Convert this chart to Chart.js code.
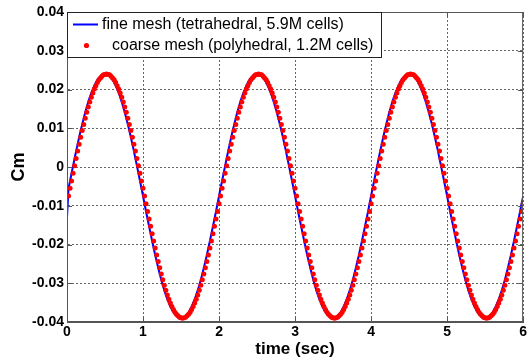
<!DOCTYPE html>
<html>
<head>
<meta charset="utf-8">
<script src="https://cdn.jsdelivr.net/npm/chart.js@4/dist/chart.umd.min.js"></script>
<style>
  html, body { margin: 0; padding: 0; background: #fff; }
  #cmChart { display: block; }
</style>
</head>
<body>
<canvas id="cmChart" width="529" height="360"></canvas>
<script>
// moment coefficient history, sampled every 0.02 s
const sampleStep = 0.02;
const fineStart = 0;
const coarseStart = 0.02;

const xTicks = [0, 1, 2, 3, 4, 5, 6];
const yTicks = [-0.04, -0.03, -0.02, -0.01, 0, 0.01, 0.02, 0.03, 0.04];

const fineLabel = "fine mesh (tetrahedral, 5.9M cells)";
const coarseLabel = "coarse mesh (polyhedral, 1.2M cells)";

const fineCm = [
  -0.0130, -0.0055, -0.0036, -0.0016, 0.0003, 0.0022, 0.0041, 0.0059, 0.0077, 0.0094, 0.0110, 0.0126, 0.0141, 0.0155, 0.0168, 0.0180, 0.0191, 0.0201, 0.0210, 0.0218, 0.0225, 0.0230, 0.0234, 0.0238, 0.0239,
  0.0240, 0.0239, 0.0238, 0.0234, 0.0230, 0.0225, 0.0218, 0.0210, 0.0201, 0.0191, 0.0180, 0.0168, 0.0155, 0.0141, 0.0126, 0.0110, 0.0094, 0.0077, 0.0059, 0.0041, 0.0022, 0.0003, -0.0016, -0.0036, -0.0055,
  -0.0075, -0.0095, -0.0115, -0.0134, -0.0153, -0.0172, -0.0191, -0.0209, -0.0227, -0.0244, -0.0260, -0.0276, -0.0291, -0.0305, -0.0318, -0.0330, -0.0341, -0.0351, -0.0360, -0.0368, -0.0375, -0.0380, -0.0384, -0.0388, -0.0391,
  -0.0392, -0.0391, -0.0388, -0.0384, -0.0380, -0.0375, -0.0368, -0.0360, -0.0351, -0.0341, -0.0330, -0.0318, -0.0305, -0.0291, -0.0276, -0.0260, -0.0244, -0.0227, -0.0209, -0.0191, -0.0172, -0.0153, -0.0134, -0.0115, -0.0095,
  -0.0075, -0.0055, -0.0036, -0.0016, 0.0003, 0.0022, 0.0041, 0.0059, 0.0077, 0.0094, 0.0110, 0.0126, 0.0141, 0.0155, 0.0168, 0.0180, 0.0191, 0.0201, 0.0210, 0.0218, 0.0225, 0.0230, 0.0234, 0.0238, 0.0239,
  0.0240, 0.0239, 0.0238, 0.0234, 0.0230, 0.0225, 0.0218, 0.0210, 0.0201, 0.0191, 0.0180, 0.0168, 0.0155, 0.0141, 0.0126, 0.0110, 0.0094, 0.0077, 0.0059, 0.0041, 0.0022, 0.0003, -0.0016, -0.0036, -0.0055,
  -0.0075, -0.0095, -0.0115, -0.0134, -0.0153, -0.0172, -0.0191, -0.0209, -0.0227, -0.0244, -0.0260, -0.0276, -0.0291, -0.0305, -0.0318, -0.0330, -0.0341, -0.0351, -0.0360, -0.0368, -0.0375, -0.0380, -0.0384, -0.0388, -0.0391,
  -0.0392, -0.0391, -0.0388, -0.0384, -0.0380, -0.0375, -0.0368, -0.0360, -0.0351, -0.0341, -0.0330, -0.0318, -0.0305, -0.0291, -0.0276, -0.0260, -0.0244, -0.0227, -0.0209, -0.0191, -0.0172, -0.0153, -0.0134, -0.0115, -0.0095,
  -0.0075, -0.0055, -0.0036, -0.0016, 0.0003, 0.0022, 0.0041, 0.0059, 0.0077, 0.0094, 0.0110, 0.0126, 0.0141, 0.0155, 0.0168, 0.0180, 0.0191, 0.0201, 0.0210, 0.0218, 0.0225, 0.0230, 0.0234, 0.0238, 0.0239,
  0.0240, 0.0239, 0.0238, 0.0234, 0.0230, 0.0225, 0.0218, 0.0210, 0.0201, 0.0191, 0.0180, 0.0168, 0.0155, 0.0141, 0.0126, 0.0110, 0.0094, 0.0077, 0.0059, 0.0041, 0.0022, 0.0003, -0.0016, -0.0036, -0.0055,
  -0.0075, -0.0095, -0.0115, -0.0134, -0.0153, -0.0172, -0.0191, -0.0209, -0.0227, -0.0244, -0.0260, -0.0276, -0.0291, -0.0305, -0.0318, -0.0330, -0.0341, -0.0351, -0.0360, -0.0368, -0.0375, -0.0380, -0.0384, -0.0388, -0.0391,
  -0.0392, -0.0391, -0.0388, -0.0384, -0.0380, -0.0375, -0.0368, -0.0360, -0.0351, -0.0341, -0.0330, -0.0318, -0.0305, -0.0291, -0.0276, -0.0260, -0.0244, -0.0227, -0.0209, -0.0191, -0.0172, -0.0153, -0.0134, -0.0115, -0.0095,
  -0.0077
];

const coarseCm = [
  -0.0075, -0.0055, -0.0036, -0.0016, 0.0003, 0.0022, 0.0041, 0.0059, 0.0077, 0.0094, 0.0110, 0.0126, 0.0141, 0.0155, 0.0168, 0.0180, 0.0191, 0.0201, 0.0210, 0.0218, 0.0225, 0.0230, 0.0234, 0.0238, 0.0239,
  0.0240, 0.0239, 0.0238, 0.0234, 0.0230, 0.0225, 0.0218, 0.0210, 0.0201, 0.0191, 0.0180, 0.0168, 0.0155, 0.0141, 0.0126, 0.0110, 0.0094, 0.0077, 0.0059, 0.0041, 0.0022, 0.0003, -0.0016, -0.0036, -0.0055,
  -0.0075, -0.0095, -0.0115, -0.0134, -0.0153, -0.0172, -0.0191, -0.0209, -0.0227, -0.0244, -0.0260, -0.0276, -0.0291, -0.0305, -0.0318, -0.0330, -0.0341, -0.0351, -0.0360, -0.0368, -0.0375, -0.0380, -0.0384, -0.0388, -0.0389,
  -0.0390, -0.0389, -0.0388, -0.0384, -0.0380, -0.0375, -0.0368, -0.0360, -0.0351, -0.0341, -0.0330, -0.0318, -0.0305, -0.0291, -0.0276, -0.0260, -0.0244, -0.0227, -0.0209, -0.0191, -0.0172, -0.0153, -0.0134, -0.0115, -0.0095,
  -0.0075, -0.0055, -0.0036, -0.0016, 0.0003, 0.0022, 0.0041, 0.0059, 0.0077, 0.0094, 0.0110, 0.0126, 0.0141, 0.0155, 0.0168, 0.0180, 0.0191, 0.0201, 0.0210, 0.0218, 0.0225, 0.0230, 0.0234, 0.0238, 0.0239,
  0.0240, 0.0239, 0.0238, 0.0234, 0.0230, 0.0225, 0.0218, 0.0210, 0.0201, 0.0191, 0.0180, 0.0168, 0.0155, 0.0141, 0.0126, 0.0110, 0.0094, 0.0077, 0.0059, 0.0041, 0.0022, 0.0003, -0.0016, -0.0036, -0.0055,
  -0.0075, -0.0095, -0.0115, -0.0134, -0.0153, -0.0172, -0.0191, -0.0209, -0.0227, -0.0244, -0.0260, -0.0276, -0.0291, -0.0305, -0.0318, -0.0330, -0.0341, -0.0351, -0.0360, -0.0368, -0.0375, -0.0380, -0.0384, -0.0388, -0.0389,
  -0.0390, -0.0389, -0.0388, -0.0384, -0.0380, -0.0375, -0.0368, -0.0360, -0.0351, -0.0341, -0.0330, -0.0318, -0.0305, -0.0291, -0.0276, -0.0260, -0.0244, -0.0227, -0.0209, -0.0191, -0.0172, -0.0153, -0.0134, -0.0115, -0.0095,
  -0.0075, -0.0055, -0.0036, -0.0016, 0.0003, 0.0022, 0.0041, 0.0059, 0.0077, 0.0094, 0.0110, 0.0126, 0.0141, 0.0155, 0.0168, 0.0180, 0.0191, 0.0201, 0.0210, 0.0218, 0.0225, 0.0230, 0.0234, 0.0238, 0.0239,
  0.0240, 0.0239, 0.0238, 0.0234, 0.0230, 0.0225, 0.0218, 0.0210, 0.0201, 0.0191, 0.0180, 0.0168, 0.0155, 0.0141, 0.0126, 0.0110, 0.0094, 0.0077, 0.0059, 0.0041, 0.0022, 0.0003, -0.0016, -0.0036, -0.0055,
  -0.0075, -0.0095, -0.0115, -0.0134, -0.0153, -0.0172, -0.0191, -0.0209, -0.0227, -0.0244, -0.0260, -0.0276, -0.0291, -0.0305, -0.0318, -0.0330, -0.0341, -0.0351, -0.0360, -0.0368, -0.0375, -0.0380, -0.0384, -0.0388, -0.0389,
  -0.0390, -0.0389, -0.0388, -0.0384, -0.0380, -0.0375, -0.0368, -0.0360, -0.0351, -0.0341, -0.0330, -0.0318, -0.0305, -0.0291, -0.0276, -0.0260, -0.0244, -0.0227, -0.0209, -0.0191, -0.0172, -0.0153, -0.0134, -0.0115, -0.0095
];

function toPoints(values, start) {
  return values.map((v, i) => ({ x: +(start + i * sampleStep).toFixed(2), y: v }));
}

const axisGray = "#555";
const tickFont = { family: "'Liberation Sans', Arial, sans-serif", size: 14, weight: "bold" };

/*=============== BOX, INNER TICKS, LEGEND ===============*/
const framePlugin = {
  id: "frame",
  afterDraw(chart) {
    const { ctx, chartArea: a, scales } = chart;
    ctx.save();
    ctx.strokeStyle = axisGray;
    ctx.lineWidth = 1;
    ctx.strokeRect(a.left + 0.5, a.top + 0.5, a.right - a.left - 1, a.bottom - a.top - 1);

    // short tick marks pointing into the plot on every side
    ctx.beginPath();
    xTicks.forEach((t) => {
      const px = Math.round(scales.x.getPixelForValue(t)) + 0.5;
      ctx.moveTo(px, a.bottom); ctx.lineTo(px, a.bottom - 5);
      ctx.moveTo(px, a.top); ctx.lineTo(px, a.top + 5);
    });
    yTicks.forEach((t) => {
      const py = Math.round(scales.y.getPixelForValue(t)) + 0.5;
      ctx.moveTo(a.left, py); ctx.lineTo(a.left + 5, py);
      ctx.moveTo(a.right, py); ctx.lineTo(a.right - 5, py);
    });
    ctx.stroke();

    // legend box in the upper left corner
    const lx = a.left, ly = a.top, lw = 314, lh = 45;
    ctx.fillStyle = "#fff";
    ctx.fillRect(lx, ly, lw, lh);
    ctx.strokeStyle = "#222";
    ctx.strokeRect(lx + 0.5, ly + 0.5, lw, lh);

    ctx.strokeStyle = "#0000ff";
    ctx.lineWidth = 2;
    ctx.beginPath();
    ctx.moveTo(lx + 6, ly + 12.5);
    ctx.lineTo(lx + 31, ly + 12.5);
    ctx.stroke();

    ctx.fillStyle = "#ff0000";
    ctx.beginPath();
    ctx.arc(lx + 19.5, ly + 33.5, 2.6, 0, Math.PI * 2);
    ctx.fill();

    ctx.fillStyle = "#000";
    ctx.font = "16px 'Liberation Sans', Arial, sans-serif";
    ctx.textBaseline = "middle";
    ctx.textAlign = "left";
    ctx.fillText(fineLabel, lx + 35, ly + 12.5);
    ctx.fillText(coarseLabel, lx + 45, ly + 34);
    ctx.restore();
  }
};

const ctx = document.getElementById("cmChart").getContext("2d");
const chart = new Chart(ctx, {
  type: "line",
  data: {
    datasets: [
      {
        label: coarseLabel,
        data: toPoints(coarseCm, coarseStart),
        showLine: false,
        pointRadius: 2.5,
        pointBackgroundColor: "#ff0000",
        pointBorderWidth: 0,
        order: 1,
      },
      {
        label: fineLabel,
        data: toPoints(fineCm, fineStart),
        borderColor: "#0000ff",
        borderWidth: 2,
        pointRadius: 0,
        tension: 0,
        fill: false,
        order: 2,
      },
    ],
  },
  options: {
    responsive: false,
    animation: false,
    devicePixelRatio: 1,
    layout: { padding: { top: 12, right: 4, left: 0, bottom: 0 } },
    plugins: {
      legend: { display: false },
      tooltip: { enabled: false },
    },
    scales: {
      x: {
        type: "linear",
        min: 0,
        max: 6,
        afterBuildTicks: (s) => { s.ticks = xTicks.map((v) => ({ value: v })); },
        afterFit: (s) => { s.height = 38; },
        ticks: { color: "#000", font: tickFont, padding: 2, maxRotation: 0, callback: (v) => String(v) },
        grid: { color: "#666", drawTicks: false, lineWidth: 1 },
        border: { display: true, color: axisGray, dash: [2, 2] },
        title: {
          display: true,
          text: "time (sec)",
          color: "#000",
          font: { family: "'Liberation Sans', Arial, sans-serif", size: 17, weight: "bold" },
          padding: { top: 0, bottom: 0 },
        },
      },
      y: {
        type: "linear",
        min: -0.04,
        max: 0.04,
        afterBuildTicks: (s) => { s.ticks = yTicks.map((v) => ({ value: v })); },
        afterFit: (s) => { s.width = 67; },
        ticks: { color: "#000", font: tickFont, padding: 3, callback: (v) => String(v) },
        grid: { color: "#666", drawTicks: false, lineWidth: 1 },
        border: { display: true, color: axisGray, dash: [2, 2] },
        title: {
          display: true,
          text: "Cm",
          color: "#000",
          font: { family: "'Liberation Sans', Arial, sans-serif", size: 18, weight: "bold" },
          padding: { top: 8, bottom: 0 },
        },
      },
    },
  },
  plugins: [framePlugin],
});
</script>
</body>
</html>
